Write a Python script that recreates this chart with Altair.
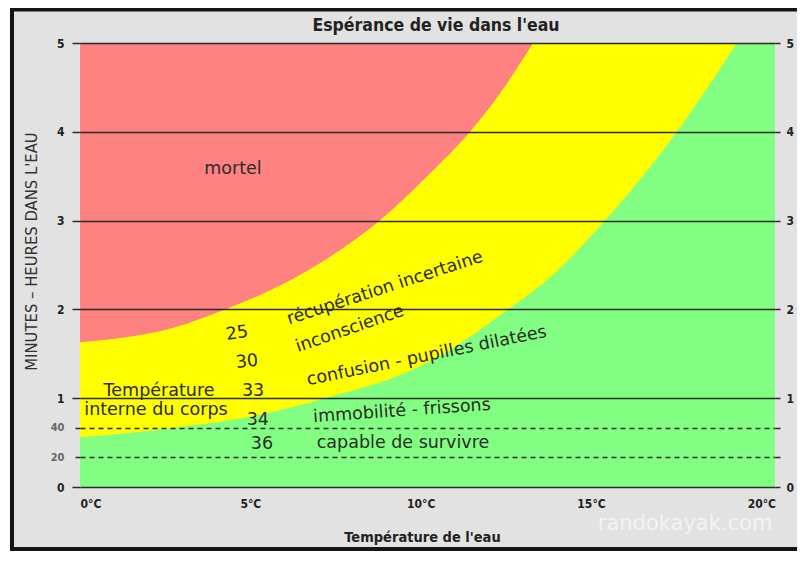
import altair as alt
import pandas as pd

# ---------------- data ----------------
# upper boundary (red / yellow): water temperature (°C) -> hours
red_temp = [0, 2.79, 4.26, 5.72, 7.04, 8.80, 10.19, 11.45, 12.45, 13.30]
red_hours = [1.63, 1.80, 2.00, 2.24, 2.52, 3.00, 3.50, 4.00, 4.50, 5.00]

# lower boundary (yellow / green)
yel_temp = [0, 2.64, 4.99, 7.19, 9.39, 10.36, 12.53, 13.65, 15.41, 17.52, 19.28]
yel_hours = [0.56, 0.66, 0.79, 1.00, 1.26, 1.43, 1.99, 2.31, 3.00, 4.00, 5.00]

t_min, t_max = 0, 20.4
h_min, h_max = 0, 5

# annotations
ann_text = ["mortel", "récupération incertaine", "inconscience",
            "confusion - pupilles dilatées", "immobilité - frissons",
            "capable de survivre", "25", "30", "33", "34", "36",
            "Température", "interne du corps"]
ann_x = [4.49, 8.95, 7.92, 10.18, 9.45, 9.48, 4.61, 4.90, 5.08, 5.22, 5.34, 2.32, 2.23]
ann_y = [3.58, 2.24, 1.78, 1.475, 0.856, 0.495, 1.73, 1.41, 1.08, 0.755, 0.484, 1.08, 0.867]
ann_angle = [0, 342, 341, 348.5, 356, 0, 352, 354, 0, 0, 0, 0, 0]

x_ticks = [0, 5, 10, 15, 20]
y_ticks = [0, 1 / 3, 2 / 3, 1, 2, 3, 4, 5]

chart_title = "Espérance de vie dans l'eau"
title_pos = (10.45, 5.19)
x_title = "Température de l'eau"
y_title = "MINUTES – HEURES DANS L'EAU"
watermark = "randokayak.com"
watermark_pos = (17.76, -0.42)

# ---------------- style ----------------
COND = "DejaVu Sans Condensed, Liberation Sans Narrow, DejaVu Sans"
TEXT_FONT = "DejaVu Sans"
LINE = "#2a2a2a"
RED, YELLOW, GREEN = "#ff8282", "#ffff00", "#82ff82"
BG = "#e2e2e2"
BORDER = "#151515"

minor_test = "datum.value > 0.1 && datum.value < 0.9"
dash_cond = {"condition": {"test": minor_test, "value": [5, 4]}, "value": []}

xs = alt.Scale(domain=[t_min, t_max], nice=False, zero=False)
ys = alt.Scale(domain=[h_min, h_max], nice=False, zero=False)

x_axis = alt.Axis(
    values=x_ticks, labelExpr="datum.value + '°C'", ticks=False, grid=False,
    domain=False, labelFlush=True, labelOverlap=False, labelPadding=11,
    labelFont=COND, labelFontWeight="bold", labelFontSize=12, labelColor="#222",
    title=x_title, titleFont=COND, titleFontWeight="bold", titleFontSize=14.5,
    titleColor="#222", titleX=342, titleY=50, titleBaseline="middle", zindex=1,
)
left_axis = alt.Axis(
    orient="left", values=y_ticks, title=y_title,
    labelExpr=("datum.value < 0.1 ? '0' : datum.value < 0.5 ? '20' : "
               "datum.value < 0.9 ? '40' : format(datum.value, 'd')"),
    grid=True, gridColor=LINE, gridWidth=1.5, gridOpacity=1, gridDash=dash_cond,
    ticks=True, tickSize=8, tickColor=LINE, tickWidth=1.5, tickDash=dash_cond,
    domain=False, labelFont=COND, labelFontWeight="bold",
    labelFontSize={"condition": {"test": minor_test, "value": 11}, "value": 12},
    labelColor={"condition": {"test": minor_test, "value": "#666"}, "value": "#222"},
    labelPadding=8, labelOverlap=False,
    titleFont=COND, titleFontSize=16.5, titleFontWeight="normal", titleColor="#333",
    titleX=-49, titleY=208, titleAngle=270, titleBaseline="middle", titleAlign="center",
    zindex=1,
)
right_axis = alt.Axis(
    orient="right", values=y_ticks, title="",
    labelExpr="datum.value > 0.1 && datum.value < 0.9 ? '' : format(datum.value, 'd')",
    grid=False, ticks=True, tickSize=5, tickColor=LINE, tickWidth=1.5, tickDash=dash_cond,
    domain=False, labelFont=COND, labelFontWeight="bold", labelFontSize=12,
    labelColor="#222", labelPadding=6, labelOverlap=False, zindex=1,
)

X = lambda f: alt.X(f, type="quantitative", scale=xs, axis=x_axis)
Y = lambda f, ax=left_axis: alt.Y(f, type="quantitative", scale=ys, axis=ax)

# ---------------- tables ----------------
red_df = pd.DataFrame({"temp": red_temp, "hours": red_hours, "top": h_max})
yel_df = pd.DataFrame({"temp": yel_temp, "hours": yel_hours, "top": h_max})
zone_df = pd.DataFrame({"temp": [t_min], "temp2": [t_max], "hours": [h_min], "top": [h_max]})
ann_df = pd.DataFrame({"temp": ann_x, "hours": ann_y, "label": ann_text, "angle": ann_angle})
wm_df = pd.DataFrame({"temp": [watermark_pos[0]], "hours": [watermark_pos[1]], "label": [watermark]})
title_df = pd.DataFrame({"temp": [title_pos[0]], "hours": [title_pos[1]], "label": [chart_title]})

# ---------------- decorative frame (panel background + border) ----------------
one = pd.DataFrame({"k": [0]})
panel = alt.Chart(one).mark_rect(fill=BG).encode(
    x=alt.value(-68), x2=alt.value(760), y=alt.value(-33.5), y2=alt.value(512))
border_left = alt.Chart(one).mark_rule(color=BORDER, strokeWidth=4).encode(
    x=alt.value(-68), y=alt.value(-35.5), y2=alt.value(508))
border_top = alt.Chart(one).mark_rule(color=BORDER, strokeWidth=4).encode(
    x=alt.value(-70), x2=alt.value(760), y=alt.value(-33.5))
border_bottom = alt.Chart(one).mark_rule(color=BORDER, strokeWidth=4).encode(
    x=alt.value(-70), x2=alt.value(760), y=alt.value(506))
frame = alt.layer(panel, border_left, border_top, border_bottom)

# ---------------- chart layers ----------------
green = alt.Chart(zone_df).mark_rect(color=GREEN).encode(
    x=X("temp"), x2="temp2", y=Y("hours"), y2="top")
yellow = alt.Chart(yel_df).mark_area(color=YELLOW, interpolate="monotone", opacity=1).encode(
    x=X("temp"), y=Y("hours"), y2="top")
red = alt.Chart(red_df).mark_area(color=RED, interpolate="monotone", opacity=1).encode(
    x=X("temp"), y=Y("hours"), y2="top")
texts = alt.Chart(ann_df).mark_text(
    font=TEXT_FONT, fontSize=17.5, color="#2b2b2b", align="center", baseline="middle"
).encode(x=X("temp"), y=Y("hours"), text="label:N",
         angle=alt.Angle("angle:Q", scale=None))
wm = alt.Chart(wm_df).mark_text(
    font=TEXT_FONT, fontSize=21, color="#ffffff", opacity=0.6, align="center", baseline="middle"
).encode(x=X("temp"), y=Y("hours"), text="label:N")
title = alt.Chart(title_df).mark_text(
    font=COND, fontSize=17.5, fontWeight="bold", color="#222", align="center", baseline="middle"
).encode(x=X("temp"), y=Y("hours"), text="label:N")

main = alt.layer(green, yellow, red, texts, wm, title)

right = alt.Chart(zone_df).mark_rule(opacity=0).encode(
    x=X("temp"), y=Y("hours", right_axis))

chart = alt.layer(frame, main, right).resolve_scale(y="independent").properties(
    width=695, height=444,
    autosize=alt.AutoSizeParams(type="none"),
    padding={"left": 72, "top": 35, "right": 22, "bottom": 64},
    background="white",
).configure_view(strokeWidth=0)

chart.save("out.html", embed_options={"renderer": "svg", "actions": False})
